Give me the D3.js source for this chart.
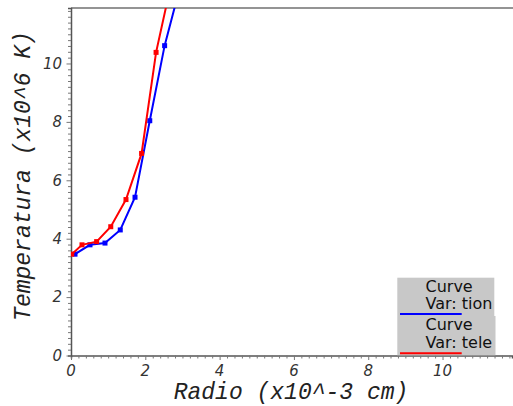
<!DOCTYPE html>
<html>
<head>
<meta charset="utf-8">
<script src="https://cdn.jsdelivr.net/npm/d3@7"></script>
<style>
    body { margin: 0; background: #fff; }
    svg { display: block; }
</style>
</head>
<body>
<div id="chart"></div>
<script>
// radio (x10^-3 cm) and temperatura (x10^6 K)
var tionRadio = [0.108, 0.511, 0.915, 1.326, 1.723, 2.12, 2.52, 2.93];
var tionTemp = [3.47, 3.79, 3.85, 4.30, 5.42, 8.04, 10.61, 12.6];
var teleRadio = [0.02, 0.296, 0.69, 1.07, 1.48, 1.90, 2.29, 2.69];
var teleTemp = [3.47, 3.79, 3.90, 4.41, 5.34, 6.92, 10.38, 12.7];

var xTicks = [0, 2, 4, 6, 8, 10];
var yTicks = [0, 2, 4, 6, 8, 10];
var legendLabels = [["Curve", "Var: tion"], ["Curve", "Var: tele"]];
var seriesColors = ["#0000ff", "#ff0000"];

var width = 513, height = 406;
var margin = {top: 8, right: 1, bottom: 50.5, left: 71};

var series = [
    {name: "tion", points: tionRadio.map(function (d, i) { return [d, tionTemp[i]]; })},
    {name: "tele", points: teleRadio.map(function (d, i) { return [d, teleTemp[i]]; })}
];

var x = d3.scaleLinear().domain([0, 11.87]).range([margin.left, width - margin.right]);
var y = d3.scaleLinear().domain([0, 11.9]).range([height - margin.bottom, margin.top]);

var svg = d3.select("#chart").append("svg")
        .attr("width", width)
        .attr("height", height);

svg.append("clipPath").attr("id", "plotclip")
        .append("rect")
        .attr("x", x(0))
        .attr("y", y(11.9))
        .attr("width", x(11.87) - x(0))
        .attr("height", y(0) - y(11.9));

//top border of the plot box
svg.append("line")
        .attr("x1", x(0)).attr("x2", width)
        .attr("y1", y(11.9)).attr("y2", y(11.9))
        .style("stroke", "#707070")
        .style("stroke-width", 1.5);

//minor ticks every 0.2, labels every 2
var minorX = d3.range(0, 11.81, 0.2);
var minorY = d3.range(0, 11.81, 0.2);

var xAxis = svg.append("g")
        .attr("transform", "translate(0," + y(0) + ")")
        .call(d3.axisBottom(x).tickValues(minorX).tickSize(3).tickFormat(""));
var yAxis = svg.append("g")
        .attr("transform", "translate(" + x(0) + ",0)")
        .call(d3.axisLeft(y).tickValues(minorY).tickSize(3).tickFormat(""));

[xAxis, yAxis].forEach(function (ax) {
    ax.select(".domain").style("stroke", "#555").style("stroke-width", 1.5);
    ax.selectAll(".tick line").style("stroke", "#777");
});

//major ticks a bit longer
xAxis.selectAll(".tick line")
        .filter(function (d) { return Math.abs(d / 2 - Math.round(d / 2)) < 1e-6; })
        .attr("y2", 4.5);
yAxis.selectAll(".tick line")
        .filter(function (d) { return Math.abs(d / 2 - Math.round(d / 2)) < 1e-6; })
        .attr("x2", -4.5);

svg.append("g").selectAll("text")
        .data(xTicks).enter()
        .append("text")
        .attr("x", function (d) { return x(d); })
        .attr("y", 376)
        .attr("text-anchor", "middle")
        .attr("font-family", "DejaVu Sans")
        .attr("font-style", "italic")
        .attr("font-size", 15)
        .attr("fill", "#333")
        .text(function (d) { return d; });

svg.append("g").selectAll("text")
        .data(yTicks).enter()
        .append("text")
        .attr("x", 62)
        .attr("y", function (d) { return y(d); })
        .attr("dy", "0.36em")
        .attr("text-anchor", "end")
        .attr("font-family", "DejaVu Sans")
        .attr("font-style", "italic")
        .attr("font-size", 15)
        .attr("fill", "#333")
        .text(function (d) { return d; });

//axis titles
svg.append("text")
        .attr("x", 291)
        .attr("y", 399)
        .attr("text-anchor", "middle")
        .attr("font-family", "Liberation Mono")
        .attr("font-style", "italic")
        .attr("font-size", 23)
        .attr("fill", "#222")
        .text("Radio (x10^-3 cm)");

svg.append("text")
        .attr("transform", "translate(30,176) rotate(-90)")
        .attr("text-anchor", "middle")
        .attr("font-family", "Liberation Mono")
        .attr("font-style", "italic")
        .attr("font-size", 23)
        .attr("fill", "#222")
        .text("Temperatura (x10^6 K)");

//curves
var line = d3.line()
        .x(function (d) { return x(d[0]); })
        .y(function (d) { return y(d[1]); });

var plot = svg.append("g").attr("clip-path", "url(#plotclip)");

series.forEach(function (s, i) {
    plot.append("path")
            .datum(s.points)
            .attr("d", line)
            .style("fill", "none")
            .style("stroke", seriesColors[i])
            .style("stroke-width", 2);

    plot.selectAll(".pt" + i)
            .data(s.points).enter()
            .append("rect")
            .attr("class", "pt" + i)
            .attr("x", function (d) { return x(d[0]) - 2.5; })
            .attr("y", function (d) { return y(d[1]) - 2.5; })
            .attr("width", 5)
            .attr("height", 5)
            .style("fill", seriesColors[i]);
});

//legend
var legend = svg.append("g");
var boxes = [{y0: 277.7, y1: 316, x1: 494.3}, {y0: 316, y1: 355.3, x1: 495.5}];

legendLabels.forEach(function (lab, i) {
    var b = boxes[i];
    legend.append("rect")
            .attr("x", 397.3)
            .attr("y", b.y0)
            .attr("width", b.x1 - 397.3)
            .attr("height", b.y1 - b.y0)
            .style("fill", "#c8c8c8");
    var t = legend.append("text")
            .attr("font-family", "DejaVu Sans")
            .attr("font-size", 16)
            .attr("fill", "#111");
    t.append("tspan").attr("x", 425.5).attr("y", b.y0 + 14).text(lab[0]);
    t.append("tspan").attr("x", 425.5).attr("y", b.y0 + 31.5).text(lab[1]);
    legend.append("line")
            .attr("x1", 400).attr("x2", 461.7)
            .attr("y1", b.y1 - 2).attr("y2", b.y1 - 2)
            .style("stroke", seriesColors[i])
            .style("stroke-width", 2);
});
</script>
</body>
</html>
